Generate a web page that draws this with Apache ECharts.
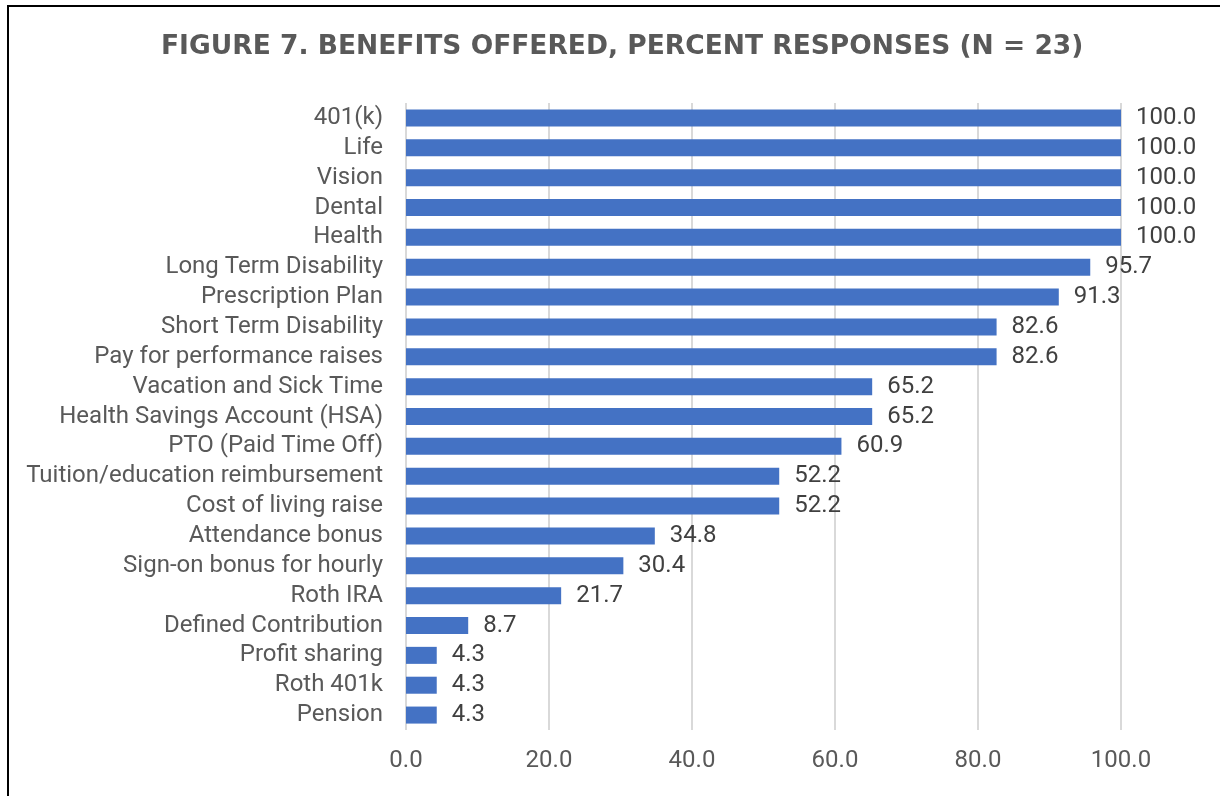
<!DOCTYPE html>
<html>
<head>
<meta charset="utf-8">
<script src="https://cdn.jsdelivr.net/npm/echarts@6/dist/echarts.min.js"></script>
<style>
  html, body { margin: 0; padding: 0; background: #ffffff; }
  #chart { position: absolute; left: 0; top: 0; width: 1220px; height: 796px; }
  #frame {
    position: absolute; left: 7px; top: 5px; width: 1213px; height: 791px;
    border-top: 2px solid #000; border-left: 2px solid #000; box-sizing: border-box;
    pointer-events: none;
  }
</style>
</head>
<body>
<div id="chart"></div>
<div id="frame"></div>
<script>
// Benefits, listed top to bottom
const benefits = [
  '401(k)', 'Life', 'Vision', 'Dental', 'Health',
  'Long Term Disability', 'Prescription Plan', 'Short Term Disability',
  'Pay for performance raises', 'Vacation and Sick Time',
  'Health Savings Account (HSA)', 'PTO (Paid Time Off)',
  'Tuition/education reimbursement', 'Cost of living raise',
  'Attendance bonus', 'Sign-on bonus for hourly', 'Roth IRA',
  'Defined Contribution', 'Profit sharing', 'Roth 401k', 'Pension'
];
// Percent of responses offering each benefit
const percentOffered = [
  100.0, 100.0, 100.0, 100.0, 100.0,
  95.7, 91.3, 82.6,
  82.6, 65.2,
  65.2, 60.9,
  52.2, 52.2,
  34.8, 30.4, 21.7,
  8.7, 4.3, 4.3, 4.3
];
const titleText = 'FIGURE 7. BENEFITS OFFERED, PERCENT RESPONSES (N = 23)';

const chart = echarts.init(document.getElementById('chart'), null, { renderer: 'canvas' });
chart.setOption({
  animation: false,
  backgroundColor: '#ffffff',
  title: {
    text: titleText,
    left: 156,
    top: 29,
    textStyle: {
      fontFamily: 'DejaVu Sans',
      fontWeight: 'bold',
      fontSize: 26.5,
      color: '#595959'
    }
  },
  grid: { left: 406, right: 99, top: 103, bottom: 66 },
  xAxis: {
    type: 'value',
    min: 0,
    max: 100,
    interval: 20,
    axisLine: { show: false },
    axisTick: { show: false },
    splitLine: { lineStyle: { color: '#d9d9d9', width: 2 } },
    axisLabel: {
      margin: 19,
      fontFamily: 'Roboto',
      fontSize: 24,
      color: '#595959',
      formatter: v => v.toFixed(1)
    }
  },
  yAxis: {
    type: 'category',
    inverse: true,
    data: benefits,
    axisLine: { show: false },
    axisTick: { show: false },
    axisLabel: {
      interval: 0,
      margin: 23,
      fontFamily: 'Roboto',
      fontSize: 24,
      color: '#595959'
    }
  },
  series: [{
    type: 'bar',
    data: percentOffered,
    barCategoryGap: '43%',
    itemStyle: { color: '#4472c4' },
    label: {
      show: true,
      position: 'right',
      distance: 15,
      fontFamily: 'Roboto',
      fontSize: 24,
      color: '#404040',
      formatter: p => p.value.toFixed(1)
    }
  }]
});
</script>
</body>
</html>
